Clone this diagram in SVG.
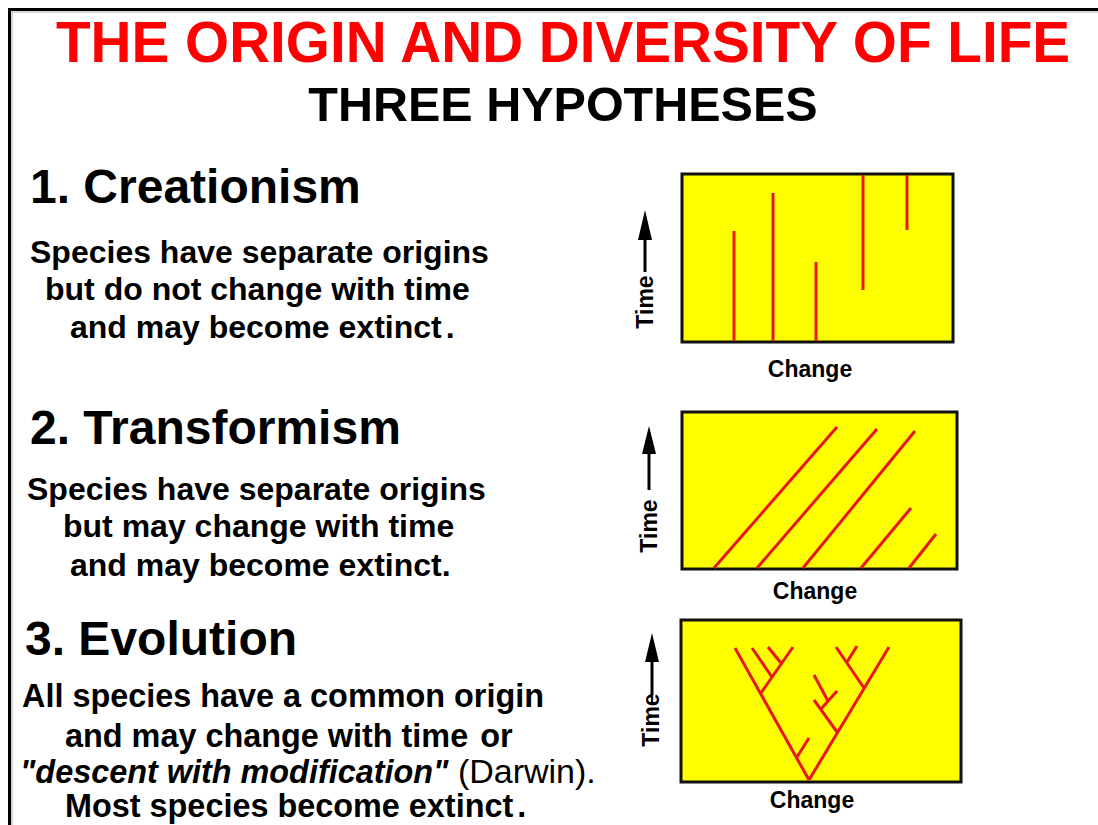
<svg xmlns="http://www.w3.org/2000/svg" width="1098" height="825" viewBox="0 0 1098 825">
<style>
  text { font-family: "Liberation Sans", Arial, sans-serif; font-weight: bold; fill: #000; }
  .title { font-size: 56.7px; fill: #ff0000; }
  .sub { font-size: 48.5px; }
  .head { font-size: 48px; }
  .body { font-size: 32px; }
  .body3 { font-size: 32.4px; }
  .lab { font-size: 23px; }
  .box { fill: #ffff00; stroke: #111; stroke-width: 3; }
  .br { stroke: #e81818; stroke-width: 3; fill: none; stroke-linecap: butt; }
  .ax { stroke: #000; stroke-width: 3; }
</style>
<rect width="1098" height="825" fill="#fff"/>
<path d="M9.5 825 V9.5 H1098" fill="none" stroke="#000" stroke-width="3"/>
<path d="M12 825 V12 H1098" fill="none" stroke="#aaa" stroke-width="1"/>

<g id="title">
  <text class="title" x="563" y="62" text-anchor="middle">THE ORIGIN AND DIVERSITY OF LIFE</text>
  <text class="sub" x="563" y="121" text-anchor="middle">THREE HYPOTHESES</text>
</g>

<g id="creationism">
  <text class="head" x="30" y="203">1. Creationism</text>
  <text class="body" x="30" y="263">Species have separate origins</text>
  <text class="body" x="45" y="300">but do not change with time</text>
  <text class="body" x="70" y="338">and may become extinct<tspan dx="4">.</tspan></text>
</g>

<g id="transformism">
  <text class="head" x="30" y="444">2. Transformism</text>
  <text class="body" x="27" y="500">Species have separate origins</text>
  <text class="body" x="63" y="537">but may change with time</text>
  <text class="body" x="70" y="576">and may become extinct.</text>
</g>

<g id="evolution">
  <text class="head" x="25" y="655">3. Evolution</text>
  <text class="body3" x="22" y="707">All species have a common origin</text>
  <text class="body3" x="65" y="747">and may change with time<tspan dx="12">or</tspan></text>
  <text class="body3" x="20" y="783"><tspan font-style="italic">"descent with modification"</tspan><tspan font-weight="normal" font-size="34px"> (Darwin).</tspan></text>
  <text class="body3" x="65" y="817">Most species become extinct<tspan dx="4">.</tspan></text>
</g>

<g id="panel-creationism">
  <rect class="box" x="682" y="174" width="271" height="168"/>
  <g class="br">
    <line x1="734" y1="231" x2="734" y2="341"/>
    <line x1="773" y1="193" x2="773" y2="341"/>
    <line x1="816" y1="262" x2="816" y2="341"/>
    <line x1="863" y1="175" x2="863" y2="290"/>
    <line x1="907" y1="175" x2="907" y2="230"/>
  </g>
  <polygon points="645,210 638,240 652,240" fill="#000"/>
  <line class="ax" x1="645" y1="238" x2="645" y2="272"/>
  <text class="lab" transform="translate(653,302) rotate(-90)" text-anchor="middle">Time</text>
  <text class="lab" x="810" y="377" text-anchor="middle">Change</text>
</g>

<g id="panel-transformism">
  <rect class="box" x="682" y="412" width="275" height="157"/>
  <g class="br">
    <line x1="714" y1="568" x2="837" y2="427"/>
    <line x1="757" y1="568" x2="877" y2="429"/>
    <line x1="803" y1="568" x2="915" y2="431"/>
    <line x1="861" y1="568" x2="911" y2="508"/>
    <line x1="909" y1="568" x2="936" y2="534"/>
  </g>
  <polygon points="649,426 642,454 656,454" fill="#000"/>
  <line class="ax" x1="649" y1="452" x2="649" y2="490"/>
  <text class="lab" transform="translate(657,526) rotate(-90)" text-anchor="middle">Time</text>
  <text class="lab" x="815" y="599" text-anchor="middle">Change</text>
</g>

<g id="panel-evolution">
  <rect class="box" x="681" y="620" width="280" height="162"/>
  <g class="br">
    <line x1="809" y1="780" x2="735" y2="648"/>
    <line x1="809" y1="780" x2="889" y2="647"/>
    <line x1="761" y1="693" x2="793" y2="647"/>
    <line x1="752" y1="648" x2="772" y2="677"/>
    <line x1="768" y1="647" x2="781" y2="663"/>
    <line x1="797" y1="757" x2="809" y2="738"/>
    <line x1="837" y1="732" x2="814" y2="700"/>
    <line x1="821" y1="709" x2="837" y2="691"/>
    <line x1="828" y1="701" x2="814" y2="675"/>
    <line x1="864" y1="688" x2="836" y2="647"/>
    <line x1="847" y1="662" x2="857" y2="646"/>
  </g>
  <polygon points="652,633 645,662 659,662" fill="#000"/>
  <line class="ax" x1="652" y1="660" x2="652" y2="695"/>
  <text class="lab" transform="translate(659,720) rotate(-90)" text-anchor="middle">Time</text>
  <text class="lab" x="812" y="808" text-anchor="middle">Change</text>
</g>
</svg>
